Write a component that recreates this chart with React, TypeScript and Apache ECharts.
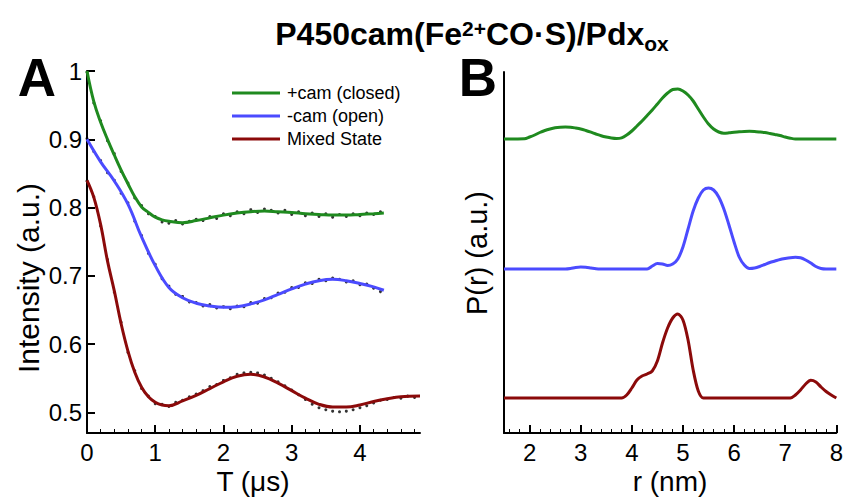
import React, { useEffect, useRef } from "react";
import * as echarts from "echarts";

// ---------- Panel A: time-domain traces ----------
const xTicksA = [0, 1, 2, 3, 4];
const xMinorA = [0.2, 0.4, 0.6, 0.8, 1.2, 1.4, 1.6, 1.8, 2.2, 2.4, 2.6, 2.8, 3.2, 3.4, 3.6, 3.8, 4.2, 4.4, 4.6, 4.8];
const yTicksA = [0.5, 0.6, 0.7, 0.8, 0.9, 1.0];

const tFitG = [0, 0.1, 0.2, 0.3, 0.4, 0.5, 0.6, 0.7, 0.8, 0.9, 1.0, 1.1, 1.2, 1.4, 1.6, 1.8, 2.0, 2.2, 2.4, 2.6, 2.8, 3.0, 3.2, 3.4, 3.6, 3.8, 4.0, 4.2, 4.35];
const greenFit = [1.0, 0.955, 0.925, 0.9, 0.877, 0.855, 0.835, 0.816, 0.801, 0.793, 0.786, 0.782, 0.78, 0.778, 0.781, 0.785, 0.789, 0.792, 0.794, 0.795, 0.794, 0.793, 0.791, 0.79, 0.789, 0.789, 0.79, 0.791, 0.792];

const tFitB = [0, 0.2, 0.4, 0.6, 0.8, 1.0, 1.2, 1.4, 1.6, 1.8, 2.0, 2.2, 2.4, 2.6, 2.8, 3.0, 3.2, 3.4, 3.6, 3.8, 4.0, 4.2, 4.35];
const blueFit = [0.9, 0.867, 0.839, 0.805, 0.757, 0.715, 0.683, 0.668, 0.66, 0.656, 0.654, 0.655, 0.659, 0.665, 0.673, 0.681, 0.688, 0.693, 0.695, 0.693, 0.689, 0.684, 0.679];

const tFitR = [0, 0.1, 0.2, 0.3, 0.4, 0.5, 0.6, 0.7, 0.8, 0.9, 1.0, 1.1, 1.2, 1.4, 1.6, 1.8, 2.0, 2.2, 2.4, 2.6, 2.8, 3.0, 3.2, 3.4, 3.6, 3.8, 4.0, 4.2, 4.4, 4.6, 4.88];
const redFit = [0.84, 0.815, 0.775, 0.722, 0.678, 0.63, 0.59, 0.559, 0.537, 0.523, 0.515, 0.511, 0.51, 0.517, 0.525, 0.535, 0.545, 0.553, 0.556, 0.552, 0.543, 0.532, 0.521, 0.512, 0.508, 0.508, 0.511, 0.516, 0.52, 0.523, 0.524];

const tDotsGB = [0, 0.1, 0.2, 0.3, 0.4, 0.5, 0.6, 0.7, 0.8, 0.9, 1.0, 1.1, 1.2, 1.3, 1.4, 1.5, 1.6, 1.7, 1.8, 1.9, 2.0, 2.1, 2.2, 2.3, 2.4, 2.5, 2.6, 2.7, 2.8, 2.9, 3.0, 3.1, 3.2, 3.3, 3.4, 3.5, 3.6, 3.7, 3.8, 3.9, 4.0, 4.1, 4.2, 4.3];
const greenDots = [0.998, 0.953, 0.927, 0.898, 0.879, 0.853, 0.836, 0.814, 0.803, 0.791, 0.787, 0.779, 0.777, 0.781, 0.776, 0.78, 0.783, 0.781, 0.787, 0.784, 0.791, 0.788, 0.794, 0.791, 0.797, 0.793, 0.798, 0.796, 0.792, 0.796, 0.79, 0.794, 0.788, 0.792, 0.787, 0.791, 0.786, 0.79, 0.787, 0.791, 0.788, 0.792, 0.79, 0.794];
const blueDots = [0.901, 0.882, 0.869, 0.851, 0.84, 0.821, 0.807, 0.78, 0.759, 0.733, 0.717, 0.696, 0.685, 0.673, 0.67, 0.662, 0.661, 0.656, 0.658, 0.653, 0.655, 0.652, 0.656, 0.655, 0.661, 0.66, 0.667, 0.668, 0.675, 0.676, 0.683, 0.683, 0.69, 0.689, 0.695, 0.693, 0.697, 0.695, 0.691, 0.693, 0.687, 0.688, 0.682, 0.677];
const tDotsR = [0, 0.1, 0.2, 0.3, 0.4, 0.5, 0.6, 0.7, 0.8, 0.9, 1.0, 1.1, 1.2, 1.3, 1.4, 1.5, 1.6, 1.7, 1.8, 1.9, 2.0, 2.1, 2.2, 2.3, 2.4, 2.5, 2.6, 2.7, 2.8, 2.9, 3.0, 3.1, 3.2, 3.3, 3.4, 3.5, 3.6, 3.7, 3.8, 3.9, 4.0, 4.1, 4.2, 4.3, 4.4, 4.5, 4.6, 4.7, 4.8];
const redDots = [0.839, 0.816, 0.773, 0.724, 0.676, 0.632, 0.588, 0.561, 0.535, 0.524, 0.513, 0.512, 0.509, 0.515, 0.518, 0.523, 0.527, 0.532, 0.538, 0.541, 0.547, 0.551, 0.556, 0.558, 0.559, 0.558, 0.555, 0.55, 0.545, 0.539, 0.533, 0.526, 0.519, 0.512, 0.507, 0.504, 0.502, 0.501, 0.502, 0.504, 0.507, 0.51, 0.514, 0.518, 0.519, 0.522, 0.521, 0.524, 0.522];

// ---------- Panel B: distance distributions ----------
const xTicksB = [2, 3, 4, 5, 6, 7, 8];
const xMinorB = [1.6, 1.8, 2.2, 2.4, 2.6, 2.8, 3.2, 3.4, 3.6, 3.8, 4.2, 4.4, 4.6, 4.8, 5.2, 5.4, 5.6, 5.8, 6.2, 6.4, 6.6, 6.8, 7.2, 7.4, 7.6, 7.8];

const rGreen = [1.5, 1.9, 2.0, 2.1, 2.2, 2.3, 2.4, 2.5, 2.6, 2.7, 2.8, 2.9, 3.0, 3.1, 3.2, 3.3, 3.4, 3.5, 3.6, 3.7, 3.8, 3.9, 4.0, 4.1, 4.2, 4.3, 4.4, 4.5, 4.6, 4.7, 4.8, 4.9, 5.0, 5.1, 5.2, 5.3, 5.4, 5.5, 5.6, 5.7, 5.8, 5.9, 6.0, 6.1, 6.2, 6.3, 6.4, 6.5, 6.6, 6.7, 6.8, 6.9, 7.0, 7.1, 7.2, 8.0];
const pGreen = [0, 0.003, 0.02, 0.04, 0.065, 0.085, 0.1, 0.112, 0.118, 0.12, 0.118, 0.11, 0.1, 0.085, 0.068, 0.05, 0.033, 0.02, 0.01, 0.005, 0.012, 0.04, 0.08, 0.13, 0.18, 0.235, 0.29, 0.35, 0.41, 0.46, 0.495, 0.5, 0.48, 0.44, 0.38, 0.3, 0.22, 0.15, 0.1, 0.07, 0.058, 0.062, 0.068, 0.073, 0.076, 0.077, 0.075, 0.07, 0.064, 0.055, 0.045, 0.035, 0.02, 0.008, 0, 0];

const rBlue = [1.5, 2.7, 2.8, 2.9, 3.0, 3.1, 3.2, 3.3, 3.4, 4.3, 4.4, 4.5, 4.6, 4.7, 4.8, 4.9, 5.0, 5.1, 5.2, 5.3, 5.4, 5.5, 5.6, 5.7, 5.8, 5.9, 6.0, 6.1, 6.2, 6.3, 6.4, 6.5, 6.6, 6.7, 6.8, 6.9, 7.0, 7.1, 7.2, 7.3, 7.4, 7.5, 7.6, 7.7, 7.8, 8.0];
const pBlue = [0, 0, 0.005, 0.015, 0.02, 0.018, 0.01, 0.002, 0, 0, 0.03, 0.055, 0.05, 0.035, 0.05, 0.1, 0.22, 0.4, 0.58, 0.71, 0.79, 0.81, 0.79, 0.72, 0.6, 0.44, 0.27, 0.12, 0.04, 0.005, 0.01, 0.025, 0.045, 0.065, 0.08, 0.095, 0.105, 0.113, 0.117, 0.112, 0.09, 0.06, 0.025, 0.005, 0, 0];

const rRed = [1.5, 3.8, 3.9, 4.0, 4.1, 4.2, 4.3, 4.4, 4.5, 4.6, 4.7, 4.8, 4.9, 5.0, 5.1, 5.2, 5.3, 5.4, 7.1, 7.2, 7.3, 7.4, 7.5, 7.6, 7.7, 7.8, 7.9, 8.0];
const pRed = [0, 0, 0.03, 0.1, 0.18, 0.22, 0.24, 0.27, 0.37, 0.55, 0.7, 0.8, 0.84, 0.78, 0.58, 0.28, 0.07, 0, 0, 0.03, 0.08, 0.14, 0.177, 0.16, 0.11, 0.065, 0.03, 0];

// vertical offsets of the stacked P(r) traces (arbitrary units)
const offsetGreen = 2.94;
const offsetBlue = 1.64;
const offsetRed = 0.35;

const names = ["+cam (closed)", "-cam (open)", "Mixed State"];
const titleParts = ["P450cam(Fe", "2+", "CO·S)/Pdx", "ox"];
const GREEN = "#1f8a1f";
const BLUE = "#4b4bff";
const RED = "#8b0a0a";
const FONT = "'Liberation Sans', Arial, sans-serif";

const zip = (xs: number[], ys: number[], off = 0) => xs.map((x, i) => [x, ys[i] + off]);

function measure(text: string, size: number): number {
  const c = document.createElement("canvas").getContext("2d");
  if (!c) return text.length * size * 0.6;
  c.font = `bold ${size}px ${FONT}`;
  return c.measureText(text).width;
}

export default function App() {
  const ref = useRef<HTMLDivElement>(null);
  useEffect(() => {
    const chart = echarts.init(ref.current!, null, { renderer: "svg" });
    const axisLine = { show: true, onZero: false, lineStyle: { color: "#000", width: 2 } };
    const majorX = (min: number, max: number, grid: number, ticks: number[]) => ({
      type: "value", gridIndex: grid, min, max, position: "bottom",
      axisLine,
      axisTick: { show: true, inside: true, length: 8, customValues: ticks, lineStyle: { color: "#000", width: 2 } },
      axisLabel: { show: true, customValues: ticks, fontSize: 24, color: "#000", margin: 7, fontFamily: FONT },
      splitLine: { show: false },
    });
    const minorX = (min: number, max: number, grid: number, ticks: number[]) => ({
      type: "value", gridIndex: grid, min, max, position: "bottom", offset: 0,
      axisLine: { show: false, onZero: false },
      axisTick: { show: true, inside: true, length: 4, customValues: ticks, lineStyle: { color: "#000", width: 1 } },
      axisLabel: { show: false },
      splitLine: { show: false },
    });

    // title built from main text, superscript and subscript pieces
    const mainSize = 32;
    const smallSize = 21;
    const sizes = [mainSize, smallSize, mainSize, smallSize];
    const ys = [34, 28, 34, 43];
    const widths = titleParts.map((t, i) => measure(t, sizes[i]));
    const total = widths.reduce((a, b) => a + b, 0);
    let cx = 472 - total / 2;
    const titleEls = titleParts.map((t, i) => {
      const el = {
        type: "text", x: cx, y: ys[i],
        style: { text: t, align: "left", verticalAlign: "middle", fontFamily: FONT, fontWeight: "bold", fontSize: sizes[i], fill: "#000" },
      };
      cx += widths[i];
      return el;
    });

    const option: any = {
      animation: false,
      backgroundColor: "#fff",
      textStyle: { fontFamily: FONT },
      grid: [
        { left: 87, top: 71, width: 333, height: 362 },
        { left: 504, top: 72, width: 334, height: 361 },
      ],
      xAxis: [
        majorX(0, 4.88, 0, xTicksA),
        minorX(0, 4.88, 0, xMinorA),
        majorX(1.5, 8, 1, xTicksB),
        minorX(1.5, 8, 1, xMinorB),
      ],
      yAxis: [
        {
          type: "value", gridIndex: 0, min: 0.47, max: 1.0,
          axisLine,
          axisTick: { show: true, inside: true, length: 8, customValues: yTicksA, lineStyle: { color: "#000", width: 2 } },
          axisLabel: { show: true, customValues: yTicksA, fontSize: 24, color: "#000", margin: 5, fontFamily: FONT },
          splitLine: { show: false },
        },
        {
          type: "value", gridIndex: 1, min: 0, max: 3.61,
          axisLine,
          axisTick: { show: false },
          axisLabel: { show: false },
          splitLine: { show: false },
        },
      ],
      legend: {
        data: names,
        orient: "vertical",
        left: 232,
        top: 84,
        padding: 0,
        icon: "rect",
        itemWidth: 48,
        itemHeight: 3,
        itemGap: 5,
        textStyle: { fontSize: 18, color: "#000", fontFamily: FONT, padding: [0, 0, 0, 2] },
      },
      series: [
        { type: "scatter", xAxisIndex: 0, yAxisIndex: 0, data: zip(tDotsGB, greenDots), symbolSize: 3, itemStyle: { color: "#000" }, silent: true },
        { type: "scatter", xAxisIndex: 0, yAxisIndex: 0, data: zip(tDotsGB, blueDots), symbolSize: 3, itemStyle: { color: "#000" }, silent: true },
        { type: "scatter", xAxisIndex: 0, yAxisIndex: 0, data: zip(tDotsR, redDots), symbolSize: 3, itemStyle: { color: "#000" }, silent: true },
        { name: names[0], type: "line", xAxisIndex: 0, yAxisIndex: 0, data: zip(tFitG, greenFit), smooth: 0.4, symbol: "none", lineStyle: { color: GREEN, width: 3 }, itemStyle: { color: GREEN } },
        { name: names[1], type: "line", xAxisIndex: 0, yAxisIndex: 0, data: zip(tFitB, blueFit), smooth: 0.4, symbol: "none", lineStyle: { color: BLUE, width: 3 }, itemStyle: { color: BLUE } },
        { name: names[2], type: "line", xAxisIndex: 0, yAxisIndex: 0, data: zip(tFitR, redFit), smooth: 0.4, symbol: "none", lineStyle: { color: RED, width: 3 }, itemStyle: { color: RED } },
        { name: "P(r) closed", type: "line", xAxisIndex: 2, yAxisIndex: 1, data: zip(rGreen, pGreen, offsetGreen), smooth: 0.3, symbol: "none", lineStyle: { color: GREEN, width: 3 } },
        { name: "P(r) open", type: "line", xAxisIndex: 2, yAxisIndex: 1, data: zip(rBlue, pBlue, offsetBlue), smooth: 0.3, symbol: "none", lineStyle: { color: BLUE, width: 3 } },
        { name: "P(r) mixed", type: "line", xAxisIndex: 2, yAxisIndex: 1, data: zip(rRed, pRed, offsetRed), smooth: 0.3, symbol: "none", lineStyle: { color: RED, width: 3 } },
      ],
      graphic: [
        ...titleEls,
        { type: "text", x: 37, y: 77, style: { text: "A", align: "center", verticalAlign: "middle", fontFamily: FONT, fontWeight: "bold", fontSize: 53, fill: "#000" } },
        { type: "text", x: 478, y: 77, style: { text: "B", align: "center", verticalAlign: "middle", fontFamily: FONT, fontWeight: "bold", fontSize: 53, fill: "#000" } },
        { type: "text", x: 28, y: 278, rotation: Math.PI / 2, style: { text: "Intensity (a.u.)", align: "center", verticalAlign: "middle", fontFamily: FONT, fontSize: 30, fill: "#000" } },
        { type: "text", x: 253, y: 481, style: { text: "T (μs)", align: "center", verticalAlign: "middle", fontFamily: FONT, fontSize: 28, fill: "#000" } },
        { type: "text", x: 477, y: 253, rotation: Math.PI / 2, style: { text: "P(r) (a.u.)", align: "center", verticalAlign: "middle", fontFamily: FONT, fontSize: 29, fill: "#000" } },
        { type: "text", x: 670, y: 481, style: { text: "r (nm)", align: "center", verticalAlign: "middle", fontFamily: FONT, fontSize: 28, fill: "#000" } },
      ],
    };
    chart.setOption(option);
    return () => chart.dispose();
  }, []);
  return <div ref={ref} style={{ position: "fixed", left: 0, top: 0, width: 846, height: 497 }} />;
}
